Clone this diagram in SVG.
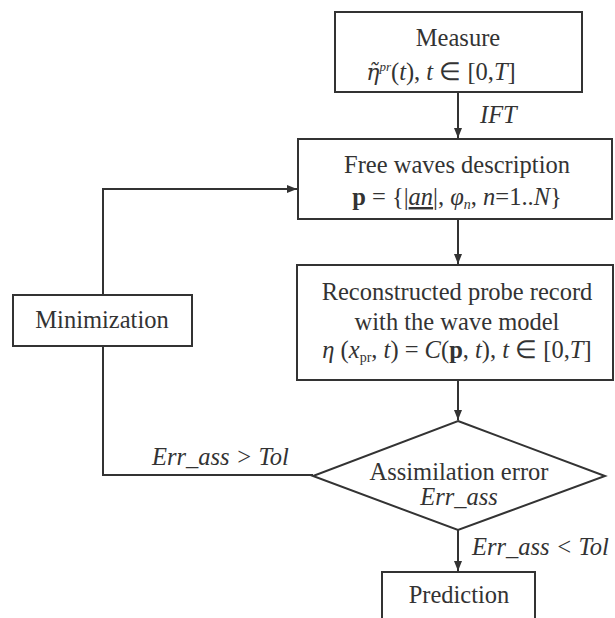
<svg xmlns="http://www.w3.org/2000/svg" width="615" height="618" viewBox="0 0 615 618">
<style>
.box{fill:#fff;stroke:#333;stroke-width:2}
.ln{fill:none;stroke:#333;stroke-width:2}
text{font-family:"Liberation Serif","Times New Roman",serif;font-size:24.5px;fill:#333}
.c{text-anchor:middle}
.i{font-style:italic}
.b{font-weight:bold}
</style>
<defs>
<marker id="a" viewBox="0 0 10 8" refX="10" refY="4" markerWidth="10" markerHeight="8" orient="auto" markerUnits="userSpaceOnUse">
<path d="M0,0 L10,4 L0,8 z" fill="#333"/>
</marker>
</defs>
<rect width="615" height="618" fill="#fff"/>
<g id="connectors">
<line class="ln" x1="458" y1="92" x2="458" y2="138" marker-end="url(#a)"/>
<line class="ln" x1="458" y1="219" x2="458" y2="264" marker-end="url(#a)"/>
<line class="ln" x1="458" y1="380" x2="458" y2="420" marker-end="url(#a)"/>
<line class="ln" x1="458" y1="530" x2="458" y2="571" marker-end="url(#a)"/>
<polyline class="ln" points="313,475 103,475 103,346"/>
<polyline class="ln" points="103,295 103,189 297,189" marker-end="url(#a)"/>
<text class="i" x="480" y="123">IFT</text>
<text class="i" x="152" y="465">Err_ass &gt; Tol</text>
<text class="i" x="472" y="555">Err_ass &lt; Tol</text>
</g>
<g id="measure">
<rect class="box" x="335" y="12" width="247" height="80"/>
<text class="c" x="458" y="46">Measure</text>
<text class="c" x="441" y="80"><tspan class="i" font-family="'DejaVu Serif',serif" font-size="22">η̃</tspan><tspan class="i" font-size="13" dy="-9">pr</tspan><tspan dy="9">(</tspan><tspan class="i">t</tspan>), <tspan class="i">t</tspan> ∈ [0,<tspan class="i">T</tspan>]</text>
</g>
<g id="free-waves">
<rect class="box" x="298" y="139" width="314" height="80"/>
<text class="c" x="457" y="173">Free waves description</text>
<text class="c" x="457" y="205"><tspan class="b">p</tspan> = {|<tspan class="i" text-decoration="underline">an</tspan>|, <tspan class="i">φ</tspan><tspan class="i" font-size="14" dy="4">n</tspan><tspan dy="-4">, </tspan><tspan class="i">n</tspan>=1..<tspan class="i">N</tspan>}</text>
</g>
<g id="reconstructed">
<rect class="box" x="297" y="265" width="316" height="115"/>
<text class="c" x="457" y="300">Reconstructed probe record</text>
<text class="c" x="457" y="330">with the wave model</text>
<text class="c" x="457" y="358"><tspan class="i">η</tspan> (<tspan class="i">x</tspan><tspan font-size="14" dy="4">pr</tspan><tspan dy="-4">, </tspan><tspan class="i">t</tspan>) = <tspan class="i">C</tspan>(<tspan class="b">p</tspan>, <tspan class="i">t</tspan>), <tspan class="i">t</tspan> ∈  [0,<tspan class="i">T</tspan>]</text>
</g>
<g id="assimilation">
<polygon class="box" points="458,421 605,476 458,530 313,476"/>
<text class="c" x="459" y="480">Assimilation error</text>
<text class="c i" x="459" y="505">Err_ass</text>
</g>
<g id="minimization">
<rect class="box" x="13" y="295" width="179" height="51"/>
<text class="c" x="102" y="328">Minimization</text>
</g>
<g id="prediction">
<rect class="box" x="382" y="572" width="153" height="60"/>
<text class="c" x="459" y="603">Prediction</text>
</g>
</svg>
